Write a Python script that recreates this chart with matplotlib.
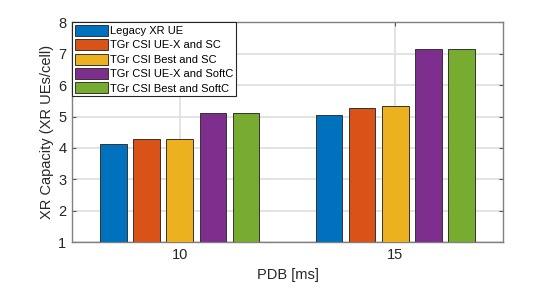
import matplotlib
matplotlib.use("Agg")
import matplotlib.pyplot as plt
import numpy as np

plt.rcParams['font.family'] = ['Liberation Sans', 'DejaVu Sans']

categories = ['10', '15']
series_names = ['Legacy XR UE', 'TGr CSI UE-X and SC', 'TGr CSI Best and SC',
                'TGr CSI UE-X and SoftC', 'TGr CSI Best and SoftC']
legacy = [4.14, 5.04]
uex_sc = [4.28, 5.26]
best_sc = [4.29, 5.32]
uex_softc = [5.10, 7.14]
best_softc = [5.10, 7.14]
colors = ['#0072BD', '#D95319', '#EDB120', '#7E2F8E', '#77AC30']

series = [legacy, uex_sc, best_sc, uex_softc, best_softc]

fig = plt.figure(figsize=(5.56, 2.88), dpi=100)
ax = fig.add_axes([0.1295, 0.158, 0.7752, 0.7656])

n = len(series)
x = np.arange(1, len(categories) + 1)
group_w = min(0.8, n / (n + 1.5))
slot = group_w / n
bw = slot * 0.8
for i, (vals, c, name) in enumerate(zip(series, colors, series_names)):
    off = -group_w / 2 + slot * (i + 0.5)
    ax.bar(x + off, np.array(vals) - 1, bottom=1, width=bw, color=c,
           edgecolor='#333333', linewidth=0.7, label=name, zorder=3)

ax.set_xlim(0.5, 2.5)
ax.set_ylim(1, 8)
ax.set_xticks(x)
ax.set_xticklabels(categories)
ax.set_yticks(range(1, 9))
ax.grid(True, color='#e0e0e0', linewidth=1.3, zorder=0)
ax.set_axisbelow(True)
for s in ax.spines.values():
    s.set_color('#808080')
    s.set_linewidth(1.0)
ax.tick_params(direction='in', length=3, color='#555555', labelsize=10.5,
               top=True, right=True, labelcolor='#262626', pad=4)
ax.set_xlabel('PDB [ms]', fontsize=10.5, color='#262626', labelpad=4)
ax.set_ylabel('XR Capacity (XR UEs/cell)', fontsize=10.5, color='#262626', labelpad=3)

leg = ax.legend(loc='upper left', bbox_to_anchor=(0, 1), borderaxespad=0,
                fontsize=8.0, frameon=True, fancybox=False, handlelength=3.0,
                handleheight=1.15, handletextpad=0.2, labelspacing=0.28,
                borderpad=0.25, edgecolor='#262626', framealpha=1)
leg.get_frame().set_linewidth(0.8)

fig.savefig('out.png', dpi=100)
